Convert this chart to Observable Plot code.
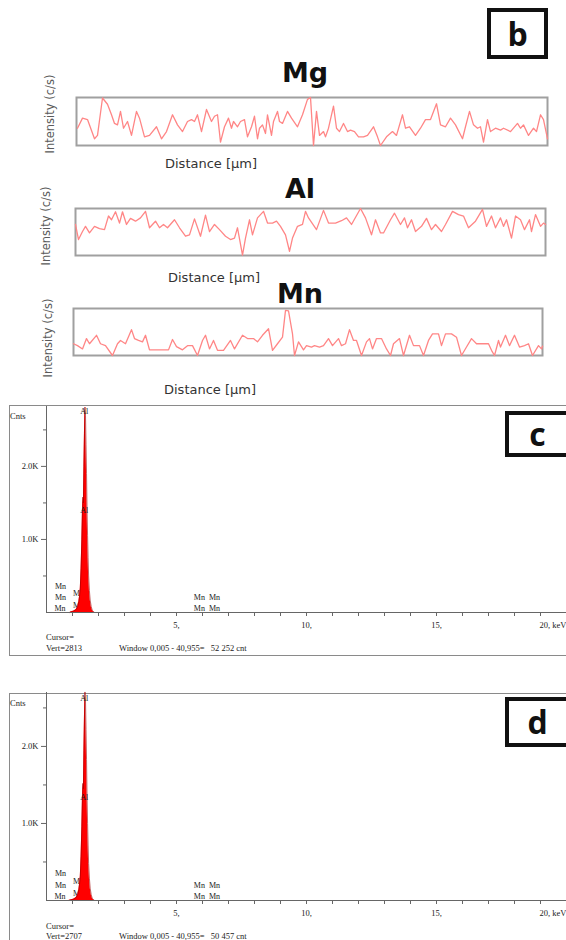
<!DOCTYPE html>
<html>
<head>
<meta charset="utf-8">
<script src="https://cdn.jsdelivr.net/npm/d3@7"></script>
<script src="https://cdn.jsdelivr.net/npm/@observablehq/plot@0.6"></script>
<style>
  body { margin: 0; background: #fff; }
  #fig { position: relative; width: 566px; height: 940px; overflow: hidden; background: #fff; }
  #fig > * { position: absolute; }
  .title { font-family: "DejaVu Sans"; font-weight: 700; font-size: 27px; color: #111; transform: translate(-50%, -50%); white-space: nowrap; line-height: 1; }
  .dist { font-family: "DejaVu Sans"; font-size: 13px; color: #333; transform: translateY(-50%); white-space: nowrap; line-height: 1; }
  .inten { font-family: "DejaVu Sans"; font-size: 11.5px; color: #5a5a5a; transform: translate(-50%, -50%) rotate(-90deg); white-space: nowrap; line-height: 1; }
  .tag { border: 4px solid #111; box-sizing: border-box; background: #fff; font-family: "Open Sans"; font-weight: 700; font-size: 32px; color: #111; display: flex; align-items: center; justify-content: center; line-height: 1; }
  .frame { border: 1px solid #8a8a8a; box-sizing: border-box; }
  .serif { font-family: "Liberation Serif"; font-size: 8.5px; color: #222; white-space: pre; line-height: 1; transform: translateY(-50%); }
</style>
</head>
<body>
<div id="fig"></div>
<script>
// ---------- Panel b : line-scan profiles (distance in arbitrary units, intensity 0-100) ----------
const mgDistance = [1,6,11,18,21,26,31,35,38,41,44,47,51,55,60,63,68,73,80,85,90,96,101,106,111,115,118,121,125,130,135,138,141,144,148,152,155,157,161,164,168,171,175,178,181,183,186,189,191,195,197,201,203,206,211,215,221,226,231,234,237,240,243,247,249,252,257,260,263,267,271,274,278,282,287,291,297,301,304,310,316,320,326,329,333,339,344,349,354,360,364,369,374,379,386,389,393,397,401,404,407,411,414,419,424,427,434,441,444,447,452,457,460,464,467,471];
const mgIntensity = [36,57,54,14,21,99,86,64,46,43,71,36,50,21,71,57,18,21,39,14,29,64,43,29,50,54,50,64,29,75,50,61,64,7,39,57,36,50,39,50,54,18,39,61,14,36,43,25,64,21,50,71,50,46,71,57,39,64,96,100,0,71,21,29,18,36,82,36,29,46,29,32,29,18,18,21,39,18,0,18,29,21,64,36,39,21,36,54,54,87,43,39,57,43,14,39,71,43,36,39,7,54,29,36,32,36,29,46,36,43,21,36,29,64,54,14];

const alDistance = [0,3,7,10,14,19,24,29,33,36,40,44,47,51,55,60,65,70,74,80,84,88,92,99,104,110,114,119,125,130,134,139,144,150,155,159,162,167,170,174,177,182,188,192,197,201,205,210,214,217,222,227,230,233,241,248,253,260,266,271,276,285,290,296,300,305,308,315,319,325,329,332,336,340,346,351,356,360,366,370,377,383,388,393,400,407,411,416,420,425,428,431,436,440,445,449,454,456,460,465,468,470];
const alIntensity = [66,34,51,62,48,62,57,55,84,76,93,69,93,66,79,73,80,94,59,73,59,66,59,76,59,41,44,78,41,86,51,66,55,41,34,37,59,1,37,76,44,80,94,69,69,73,62,44,9,37,62,66,94,80,55,96,69,69,74,80,66,100,80,44,76,48,48,76,90,66,80,59,76,51,62,79,55,66,51,66,94,87,84,59,73,98,62,84,59,80,62,76,37,84,76,55,76,51,87,62,69,66];

const mnDistance = [0,4,9,13,16,23,27,32,39,44,47,52,58,61,65,69,72,76,84,90,95,99,103,109,114,119,124,129,132,136,140,144,150,157,161,169,174,180,184,189,195,199,204,209,212,215,219,221,225,230,233,238,241,246,250,255,259,265,268,272,276,280,283,288,293,296,299,303,308,313,317,320,326,330,336,340,346,350,355,359,365,368,372,378,383,388,393,398,403,408,415,418,421,425,427,432,436,441,446,451,455,459,465,468,469];
const mnIntensity = [25,21,14,36,25,43,25,21,0,25,32,25,55,36,32,29,43,12,12,12,12,34,19,12,21,21,0,32,43,14,32,11,11,32,14,43,36,36,29,43,57,11,25,39,96,95,46,0,29,12,21,18,21,18,21,36,21,36,21,25,55,32,32,0,29,36,14,36,36,14,0,25,36,0,43,21,21,0,32,46,46,21,46,46,39,0,18,36,25,25,25,11,0,32,18,43,21,43,18,21,25,0,21,14,20];

const profileNames = ["Mg", "Al", "Mn"];

// ---------- Panels c & d : EDS spectra (keV, counts) ----------
const specEnergyC = [0.90,0.95,1.00,1.05,1.10,1.15,1.20,1.24,1.27,1.30,1.33,1.36,1.38,1.40,1.42,1.44,1.46,1.48,1.50,1.52,1.54,1.56,1.58,1.60,1.62,1.65,1.68,1.72,1.76,1.80,1.85];
const specCountsC = [0,10,15,20,30,45,80,140,220,330,600,1000,1350,1580,1500,2000,2450,2813,2700,2300,1900,1400,1050,750,500,300,170,80,30,10,0];
const specEnergyD = [0.85,0.92,1.00,1.05,1.10,1.15,1.20,1.24,1.27,1.30,1.33,1.36,1.38,1.40,1.42,1.44,1.46,1.48,1.50,1.52,1.54,1.56,1.58,1.60,1.62,1.65,1.68,1.72,1.76,1.80,1.85];
const specCountsD = [0,8,14,18,28,42,75,130,210,310,570,960,1300,1520,1450,1950,2380,2707,2600,2220,1830,1350,1000,720,480,290,160,75,28,9,0];

const peakLabels   = ["Mn","Mn","Mn","Mg","Mg","Mn","Mn","Mn","Mn"];
const peakEnergy   = [0.54,0.54,0.52,1.23,1.23,5.88,6.46,5.88,6.46];
const peakHeightC  = [356,205,55,260,96,205,205,55,55];
const peakHeightD  = [347,195,56,251,87,195,195,56,56];
const alEnergy     = [1.45,1.45];
const alHeightC    = [2750,1400];
const alHeightD    = [2620,1340];

const yMajorTicks = [1000,2000];
const yMinorTicks = [500,1500,2500];
const xTicks = [1,2,3,4,5,6,7,8,9,10,11,12,13,14,15,16,17,18,19,20];
const xLabelValues = [5,10,15];
const xLabelTexts = ["5,","10,","15,"];
const xLastLabel = "20, keV";

const fig = document.getElementById("fig");
function put(el, left, top) { el.style.left = left + "px"; el.style.top = top + "px"; fig.appendChild(el); return el; }
function div(cls, text, left, top, extra = {}) {
  const d = document.createElement("div");
  d.className = cls; d.textContent = text;
  Object.assign(d.style, extra);
  return put(d, left, top);
}

// ---------- Panel b ----------
function profile(dist, inten, dmax, w, h) {
  const data = dist.map((d, i) => ({d, v: inten[i]}));
  return Plot.plot({
    width: w + 4, height: h + 4, margin: 2,
    style: {background: "transparent"},
    x: {domain: [0, dmax], axis: null},
    y: {domain: [0, 100], axis: null},
    marks: [
      Plot.frame({stroke: "#a0a0a0", strokeWidth: 2}),
      Plot.line(data, {x: "d", y: "v", stroke: "#ff8686", strokeWidth: 1.3})
    ]
  });
}
const boxes = [
  {d: mgDistance, v: mgIntensity, left: 76, top: 97, w: 471, h: 48, title: [305, 72], dist: [165, 163], inten: [51, 114]},
  {d: alDistance, v: alIntensity, left: 75, top: 208, w: 470, h: 47, title: [300, 188], dist: [168, 277], inten: [47, 226]},
  {d: mnDistance, v: mnIntensity, left: 73, top: 308, w: 469, h: 47, title: [300, 293], dist: [164, 389], inten: [49, 338]}
];
boxes.forEach((b, i) => {
  put(profile(b.d, b.v, b.w, b.w, b.h), b.left - 2, b.top - 2);
  div("title", profileNames[i], b.title[0], b.title[1]);
  div("dist", "Distance [µm]", b.dist[0], b.dist[1]);
  div("inten", "Intensity (c/s)", b.inten[0], b.inten[1]);
});
div("tag", "b", 487, 8, {width: "61px", height: "51px"});

// ---------- Panels c & d ----------
function spectrum(energy, counts, heights, alHeights, yMax, marginTop, marginBottom) {
  const spec = energy.map((e, i) => ({e, c: counts[i]}));
  const labs = peakLabels.map((t, i) => ({t, e: peakEnergy[i], c: heights[i]}));
  const als = alEnergy.map((e, i) => ({t: "Al", e, c: alHeights[i]}));
  const xl = xLabelValues.map((v, i) => ({v, t: xLabelTexts[i]}));
  return Plot.plot({
    width: 566, height: 260, marginLeft: 46, marginRight: 0, marginTop, marginBottom,
    style: {background: "transparent", fontFamily: "Liberation Serif", fontSize: "8.5px", color: "#222"},
    x: {domain: [0, 20]},
    y: {domain: [0, yMax]},
    marks: [
      Plot.text(labs, {x: "e", y: "c", text: "t", fill: "#222", fontSize: 8}),
      Plot.areaY(spec, {x: "e", y: "c", fill: "#ff0000"}),
      Plot.lineY(spec, {x: "e", y: "c", stroke: "#a00000", strokeWidth: 0.6}),
      Plot.text(als, {x: "e", y: "c", text: "t", fill: "#222", fontSize: 8}),
      Plot.ruleX([0], {stroke: "#666"}),
      Plot.ruleY([0], {stroke: "#666"}),
      Plot.axisY({ticks: yMajorTicks, tickFormat: d => (d / 1000).toFixed(1) + "K", tickSize: 5, tickPadding: 3, label: null, stroke: "#666"}),
      Plot.axisY({ticks: yMinorTicks, tickFormat: () => "", tickSize: 3, label: null, stroke: "#666"}),
      Plot.axisX({ticks: xTicks, tickFormat: () => "", tickSize: 4, label: null, stroke: "#666"}),
      Plot.text(xl, {x: "v", y: () => 0, text: "t", dy: 13, fill: "#222"}),
      Plot.text([xLastLabel], {x: () => 20, y: () => 0, text: d => d, dy: 13, textAnchor: "end", fill: "#222"})
    ]
  });
}

// panel c
div("frame", "", 9, 405, {width: "570px", height: "251px"});
put(spectrum(specEnergyC, specCountsC, peakHeightC, alHeightC, 2820, 6, 48), 0, 400);
div("serif", "Cnts", 10, 416);
div("serif", "Cursor=", 46, 637);
div("serif", "Vert=2813", 46, 648);
div("serif", "Window 0,005 - 40,955=   52 252 cnt", 119, 648);
div("tag", "c", 505, 411, {width: "65px", height: "46px"});

// panel d
div("frame", "", 9, 693, {width: "570px", height: "260px"});
put(spectrum(specEnergyD, specCountsD, peakHeightD, alHeightD, 2700, 12, 40), 0, 680);
div("serif", "Cnts", 10, 703);
div("serif", "Cursor=", 46, 926);
div("serif", "Vert=2707", 46, 936);
div("serif", "Window 0,005 - 40,955=   50 457 cnt", 119, 936);
div("tag", "d", 505, 697, {width: "65px", height: "50px"});
</script>
</body>
</html>
